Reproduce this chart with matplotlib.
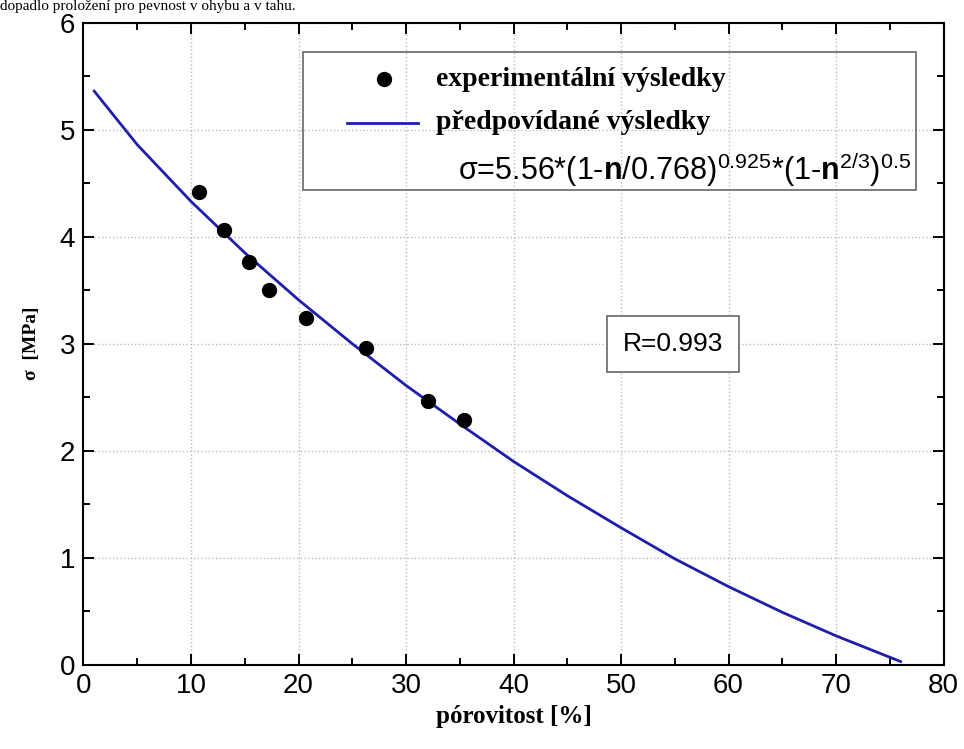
import matplotlib.pyplot as plt
from matplotlib.ticker import MultipleLocator

plt.rcParams['mathtext.fontset'] = 'custom'
plt.rcParams['mathtext.rm'] = 'Liberation Sans'
plt.rcParams['mathtext.bf'] = 'Liberation Sans:bold'
plt.rcParams['mathtext.it'] = 'Liberation Sans:italic'

# experimental points (porosity %, strength MPa)
exp_x = [10.77, 13.03, 15.37, 17.26, 20.7, 26.3, 32.0, 35.4]
exp_y = [4.42, 4.06, 3.76, 3.50, 3.24, 2.96, 2.46, 2.29]

# predicted curve
pred_x = [1, 5, 10, 15, 20, 25, 30, 35, 40, 45, 50, 55, 60, 65, 70, 75, 76]
pred_y = [5.36, 4.86, 4.33, 3.85, 3.41, 3.00, 2.61, 2.25, 1.90, 1.58, 1.28,
          0.99, 0.73, 0.49, 0.27, 0.07, 0.03]

fig = plt.figure(figsize=(9.64, 7.49), dpi=100)
ax = fig.add_axes([0.0866, 0.1125, 0.9788 - 0.0866, 0.9697 - 0.1125])

ax.plot(pred_x, pred_y, '-', color='#1e1eaa', lw=2.0, zorder=3)
ax.plot(exp_x, exp_y, 'o', color='black', ms=10, zorder=4)

ax.set_xlim(0, 80)
ax.set_ylim(0, 6)
ax.xaxis.set_major_locator(MultipleLocator(10))
ax.xaxis.set_minor_locator(MultipleLocator(5))
ax.yaxis.set_major_locator(MultipleLocator(1))
ax.yaxis.set_minor_locator(MultipleLocator(0.5))
ax.tick_params(which='both', direction='in', top=True, right=True, width=1.4)
ax.tick_params(which='major', length=8, labelsize=20, pad=6)
ax.tick_params(which='minor', length=5)
for lab in ax.get_xticklabels() + ax.get_yticklabels():
    lab.set_family('Liberation Sans')
for s in ax.spines.values():
    s.set_linewidth(1.5)
ax.grid(True, which='major', linestyle=':', color='#bbbbbb', lw=1.0)

ax.set_xlabel('pórovitost [%]', family='Liberation Serif', fontweight='bold',
              fontsize=18, labelpad=4)
ax.set_ylabel('σ  [MPa]', family='Liberation Serif', fontweight='bold',
              fontsize=14, labelpad=14)

# legend box with formula
ax.add_patch(plt.Rectangle((20.39, 4.44), 77.44 - 20.39, 5.73 - 4.44,
                           fill=False, edgecolor='#666666', lw=1.2, zorder=5))
ax.plot([27.98], [5.47], 'o', color='black', ms=10, zorder=6)
ax.plot([24.48, 31.14], [5.06, 5.06], '-', color='#1e1eaa', lw=2.0, zorder=6)
ax.text(32.8, 5.47, 'experimentální výsledky', family='Liberation Serif',
        fontweight='bold', fontsize=20, va='center', zorder=6)
ax.text(32.8, 5.07, 'předpovídané výsledky', family='Liberation Serif',
        fontweight='bold', fontsize=20, va='center', zorder=6)
ax.text(77.0, 4.53,
        'σ=5.56*(1-$\\mathbf{n}$/0.768)$^{0.925}$*(1-$\\mathbf{n}^{2/3}$)$^{0.5}$',
        family='Liberation Sans', fontsize=22, ha='right', va='baseline',
        zorder=6)

ax.text(54.8, 3.0, 'R=0.993', family='Liberation Sans', fontsize=19,
        ha='center', va='center', zorder=6,
        bbox=dict(boxstyle='square,pad=0.6', facecolor='white',
                  edgecolor='#666666', lw=1.2))

fig.text(0.0, 1 - 10 / 749, 'dopadlo proložení pro pevnost v ohybu a v tahu.',
         family='Liberation Serif', fontsize=11, va='baseline')

fig.savefig('out.png', dpi=100)
